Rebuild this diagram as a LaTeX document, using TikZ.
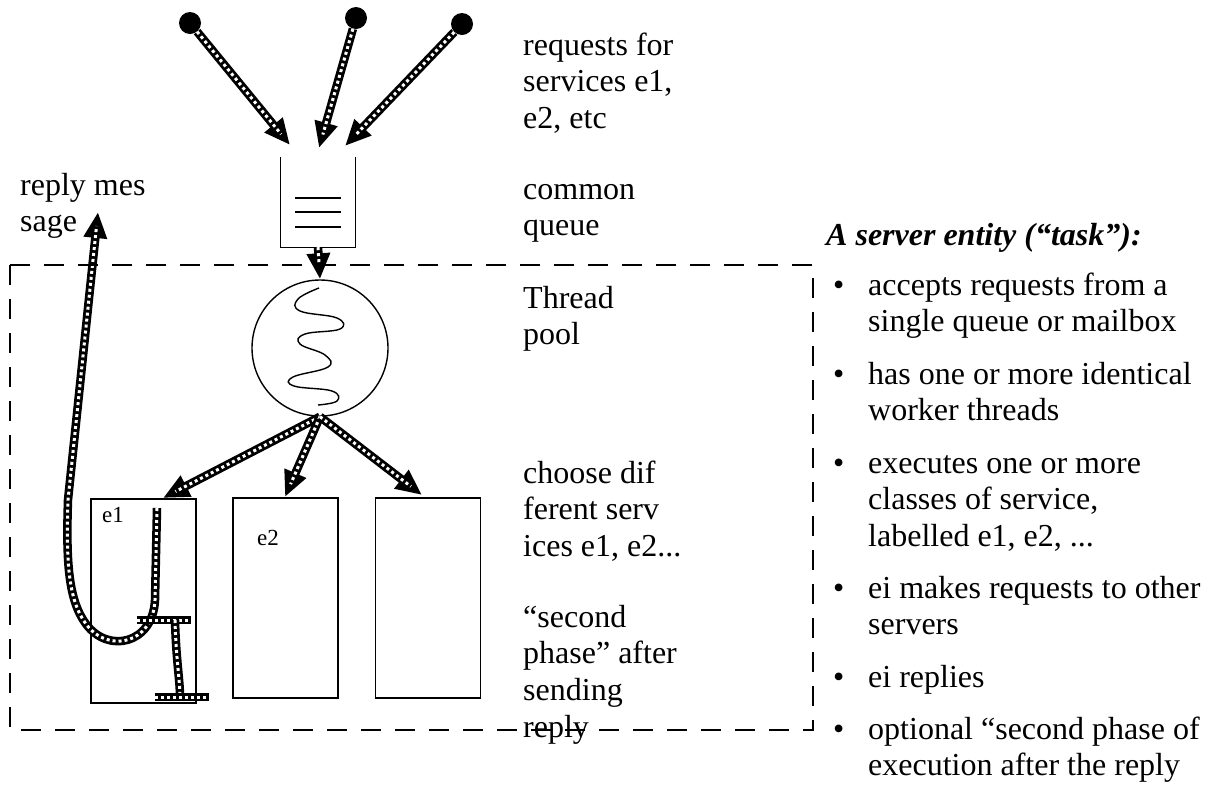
\documentclass[tikz,border=0pt]{standalone}
\usepackage{fontspec}
\setmainfont{Liberation Serif}
\usetikzlibrary{arrows.meta}
% a chain-textured stroke: black core with white square dots on top
\newcommand\chainstroke[1]{\draw[chainbase] #1; \draw[chaindots] #1;}
\newcommand\chainarrow[1]{\draw[chainbase,chainhead] #1; \draw[chaindots,shorten >=14pt] #1;}
\begin{document}
\begin{tikzpicture}[x=1pt,y=-1pt,
  % multi-line labels are anchored at the baseline of their last line
  txt/.style={font=\fontsize{32}{36.7}\selectfont, anchor=base west, inner sep=0pt, align=left},
  smalltxt/.style={font=\fontsize{23}{27}\selectfont, anchor=base west, inner sep=0pt},
  outline/.style={draw=black, line width=1.4pt},
  frame/.style={draw=black, line width=1.4pt, dash pattern=on 20pt off 14pt},
  chainbase/.style={draw=black, line width=8.5pt},
  chaindots/.style={draw=white, line width=3pt, dash pattern=on 3pt off 3pt},
  chainhead/.style={-{Triangle[length=26pt,width=22pt]}},
  src/.style={circle, fill=black, minimum size=22pt, inner sep=0pt},
  svc/.style={draw=black, line width=1.4pt, inner sep=0pt},
]
\useasboundingbox (0,0) rectangle (1208,788);

% request sources
\node[src] (s1) at (190,23) {};
\node[src] (s2) at (356,18) {};
\node[src] (s3) at (462,24) {};

% common queue (open at the top)
\node[minimum width=75pt, minimum height=90pt, inner sep=0pt] (queue) at (318,202) {};
\draw[outline] (queue.north west) -- (queue.south west) -- (queue.south east) -- (queue.north east);
\draw[line width=2.4pt] (295,198) -- (341,198) (295,212) -- (341,212) (295,227) -- (341,227);

\coordinate (q1) at (290,145);
\coordinate (q2) at (319,148);
\coordinate (q3) at (345,146);

% thread pool
\node[circle, draw=black, line width=1.4pt, minimum size=136pt, inner sep=0pt] (pool) at (320,348) {};
\draw[line width=1.4pt] plot[smooth, tension=0.7] coordinates {
  (319,288) (298,299) (300,311) (337,318) (340,329) (305,334) (300,344)
  (325,355) (328,367) (293,377) (294,386) (332,391) (337,401) (318,405)};

% service entries
\node[svc, minimum width=105pt, minimum height=204pt] (e1box) at (143.5,601) {};
\node[svc, minimum width=105pt, minimum height=200pt] (e2box) at (285.5,598) {};
\node[svc, minimum width=105pt, minimum height=200pt] (e3box) at (428,598) {};
\node[smalltxt] (e1lab) at (102,522) {e1};
\node[smalltxt] (e2lab) at (257,545) {e2};

\coordinate (t1) at (163,498);
\coordinate (t2) at (285,497);
\coordinate (t3) at (422,495);

% requests arriving at the queue
\chainarrow{(s1) -- (q1)}
\chainarrow{(s2) -- (q2)}
\chainarrow{(s3) -- (q3)}
% queue feeds the pool
\chainarrow{(queue.south) -- (pool.north)}
% pool dispatches to the entries
\chainarrow{(pool.south) -- (t1)}
\chainarrow{(pool.south) -- (t2)}
\chainarrow{(pool.south) -- (t3)}

% execution inside e1 and the reply message
\coordinate (rstart) at (157,508);
\coordinate (rtip) at (98,212);
\chainarrow{(rstart) -- (155,600) .. controls (153,644) and (108,654) .. (86,624) .. controls (68,600) and (66,560) .. (68,500) -- (rtip)}
\chainstroke{(137,620) -- (191,620)}
\chainstroke{(175,620) .. controls (176,660) and (180,680) .. (180,697)}
\chainstroke{(155,697) -- (209,697)}

% side labels
\node[txt] (lreply) at (20,231.7) {reply mes\\sage};
\node[txt] (lreq) at (523,128.4) {requests for\\services e1,\\e2, etc};
\node[txt] (lqueue) at (523,235.7) {common\\queue};
\node[txt] (lpool) at (523,344.7) {Thread\\pool};
\node[txt] (lchoose) at (523,556.4) {choose dif\\ferent serv\\ices e1, e2...};
\node[txt] (lphase) at (523,737.1) {“second\\phase” after\\sending\\reply};

% task boundary
\draw[frame] (10,265) rectangle (813,730);

% description of a server entity
\node[txt, font=\fontsize{32}{36.7}\selectfont\bfseries\itshape] (title) at (826,245) {A server entity (“task”):};
\node[txt] (b1) at (833,295) {•};
\node[txt] (i1) at (868,331.7) {accepts requests from a\\single queue or mailbox};
\node[txt] (b2) at (833,384) {•};
\node[txt] (i2) at (868,420.7) {has one or more identical\\worker threads};
\node[txt] (b3) at (833,473) {•};
\node[txt] (i3) at (868,546.4) {executes one or more\\classes of service,\\labelled e1, e2, ...};
\node[txt] (b4) at (833,598) {•};
\node[txt] (i4) at (868,634.7) {ei makes requests to other\\servers};
\node[txt] (b5) at (833,687) {•};
\node[txt] (i5) at (868,687) {ei replies};
\node[txt] (b6) at (833,739) {•};
\node[txt] (i6) at (868,775.7) {optional “second phase of\\execution after the reply};
\end{tikzpicture}
\end{document}
